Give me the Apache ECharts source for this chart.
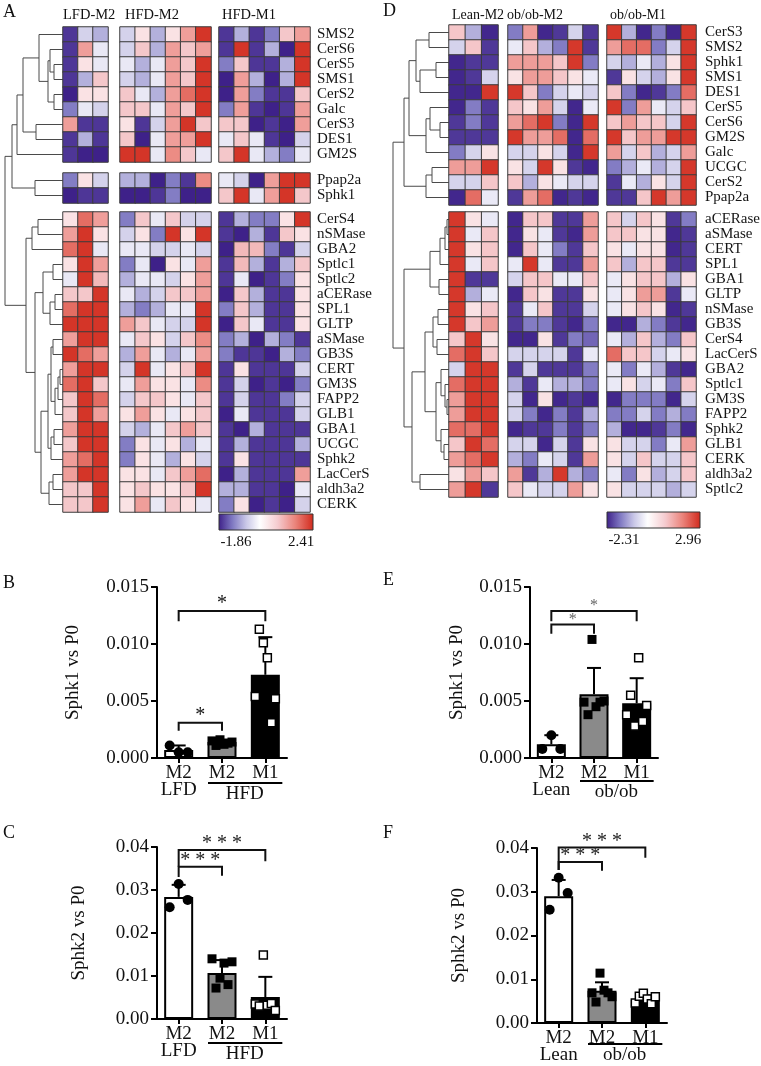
<!DOCTYPE html>
<html>
<head>
<meta charset="utf-8">
<script src="https://cdn.jsdelivr.net/npm/echarts@6.0.0/dist/echarts.min.js"></script>
<style>
html,body{margin:0;padding:0;background:#fff;}
#chart{width:761px;height:1066px;}
</style>
</head>
<body>
<div id="chart"></div>
<script>
// ================= DATA =================
// ---- Heatmap A (LFD/HFD) ----
const genesA = ['SMS2','CerS6','CerS5','SMS1','CerS2','Galc','CerS3','DES1','GM2S',
  'Ppap2a','Sphk1',
  'CerS4','nSMase','GBA2','Sptlc1','Sptlc2','aCERase','SPL1','GLTP','aSMase','GB3S','CERT','GM3S','FAPP2','GLB1','GBA1','UCGC','Sphk2','LacCerS','aldh3a2','CERK'];
const blockSizesA = [9, 2, 20];
const groupsA = ['LFD-M2', 'HFD-M2', 'HFD-M1'];
const groupSizesA = [3, 6, 6];
const scaleA = [-1.86, 2.41];
const valuesA = [
  [-1.7,-0.5,-0.8, -0.5,0.45,-0.8,0.45,1.3,2.3, -1.7,-0.8,-1.7,-1.2,0.85,1.3],
  [-1.7,1.3,-0.25, -0.5,0.85,-0.8,1.3,0.85,1.3, -1.7,2.3,-1.7,-0.8,-1.85,2.3],
  [-1.7,0.45,-0.25, -0.25,-0.8,-0.25,1.3,0.85,2.3, -1.2,0.85,-1.7,-1.7,-0.8,2.3],
  [-1.7,-0.8,0.85, -0.5,-0.8,-0.25,1.3,0.85,2.3, -1.85,1.3,-0.8,-1.85,-0.8,2.3],
  [-1.85,0.45,0.45, 0.85,-0.25,-0.8,1.3,1.8,2.3, -1.85,1.3,-1.2,-1.7,-1.7,0.85],
  [-1.2,-0.25,-0.5, 0.85,0.85,-0.25,1.3,0.85,2.3, -1.2,1.3,-1.7,-1.85,-1.7,1.3],
  [1.3,-1.7,-1.7, 0.45,-1.7,-0.5,1.3,2.3,0.85, 0.85,0.85,-1.85,-1.7,-1.85,1.3],
  [-1.7,-0.8,-1.7, 0.85,-1.85,-0.25,1.3,1.3,2.3, -0.25,0.85,-0.25,-1.7,-1.85,-0.5],
  [-1.7,-1.85,-1.85, 2.3,2.3,-0.25,1.5,0.85,-0.25, 0.85,2.3,-0.25,-0.8,-1.2,-0.25],
  [-1.2,0.45,-0.5, -0.8,-0.8,-1.85,-1.2,-1.7,1.5, -0.25,-0.5,-1.85,1.3,2.3,2.3],
  [-1.85,-1.7,-1.7, -1.85,-1.85,-1.7,-1.2,-1.85,-1.85, 0.85,2.3,-0.25,1.3,2.3,0.85],
  [0.45,1.8,1.3, -1.2,0.85,-0.25,0.85,-0.5,-0.5, -1.7,-0.8,-1.2,-1.2,0.45,2.3],
  [1.3,2.3,0.45, -0.5,0.45,-1.2,2.3,0.45,2.3, -1.7,-1.85,-0.8,-1.7,0.85,0.45],
  [1.8,2.3,-0.25, -0.25,-0.25,-0.5,-0.5,-0.25,-0.5, -1.85,1.0,1.0,-1.2,-1.7,-0.5],
  [0.45,2.3,1.3, -1.2,-0.25,-1.85,0.45,-0.25,1.3, -1.7,1.0,-0.8,-1.7,-0.8,0.85],
  [-0.25,2.3,1.0, -0.8,-0.25,-0.25,-0.5,0.45,1.3, -1.7,-0.25,-1.85,-1.7,-1.2,0.45],
  [0.85,0.85,2.3, -0.25,-0.8,-0.5,0.85,0.85,1.3, -1.85,0.85,-0.8,-1.7,-1.7,0.45],
  [1.8,2.3,2.3, -0.8,-1.2,-0.8,-0.25,-0.25,2.3, -1.2,0.85,-0.8,-1.7,-1.7,0.45],
  [2.3,2.3,2.3, 1.3,0.85,-0.25,-0.5,-0.5,2.3, -1.85,0.85,-0.25,-1.7,-1.7,0.45],
  [1.3,2.3,2.3, -0.25,0.85,0.45,-0.5,0.85,1.5, -1.2,-0.8,-1.85,-0.8,-1.2,-1.7],
  [2.3,1.8,1.3, -0.8,1.3,-0.25,-0.8,-0.25,1.3, -1.2,-1.7,-1.7,-1.85,-0.8,-1.2],
  [1.3,2.3,2.3, -0.5,2.3,-0.25,0.45,0.85,2.3, -1.7,0.45,-1.7,-1.7,-1.7,-0.5],
  [1.8,2.3,0.85, -0.25,1.3,0.45,0.45,-0.25,1.5, -1.7,-0.5,-1.85,-1.7,-1.85,-1.2],
  [0.85,2.3,1.8, -0.5,0.85,0.85,0.45,-0.25,0.85, -1.7,-0.5,-1.7,-1.7,-1.2,-0.5],
  [0.85,2.3,1.3, 0.45,1.3,0.45,-0.25,0.45,0.85, -1.85,-0.25,-1.7,-1.7,-1.7,-0.5],
  [1.3,2.3,2.3, -0.5,-0.8,-0.25,0.85,1.3,0.85, -1.7,-1.85,-0.8,-1.7,-1.7,-1.7],
  [0.85,2.3,2.3, -1.2,0.45,-0.25,0.45,-0.8,-0.25, -1.7,-0.8,-1.7,-1.7,-1.7,-0.8],
  [1.3,1.8,2.3, -1.2,0.45,-0.25,-0.8,0.45,-0.5, -1.7,0.45,-1.7,-1.7,-1.7,-1.7],
  [1.3,2.3,2.3, 0.45,0.45,-0.25,0.85,1.3,1.8, -1.85,-0.8,-1.7,-1.7,-1.7,1.3],
  [0.85,0.85,2.3, 0.45,0.85,0.45,0.45,0.85,2.3, -0.8,-0.8,-1.7,-1.7,-1.85,-0.25],
  [0.85,0.85,2.3, 0.45,1.3,-0.25,0.85,0.45,-0.25, -1.2,0.45,-1.85,-1.7,-1.85,-0.5]
];
// dendrogram A: [left, right, mergeHeight]
const treeA = [
  [
    [
      [
        ['SMS2', [['CerS6', ['CerS5','SMS1',9], 13], ['CerS2','Galc',9], 15], 24],
        ['CerS3','DES1',27], 40],
      'GM2S', 46],
    ['Ppap2a','Sphk1',28], 51],
  [
    [['CerS4','nSMase',25],'GBA2',31],
    [
      [['Sptlc1','Sptlc2',10], [['aCERase','SPL1',8],'GLTP',13], 20],
      [
        [
          [['aSMase','GB3S',10], [[['CERT','GM3S',3],'FAPP2',5],'GLB1',8], 12],
          [['GBA1','UCGC',9],'Sphk2',12], 15],
        [['LacCerS','aldh3a2',10],'CERK',14], 22],
      28],
    37],
  58];

// ---- Heatmap D (Lean/ob/ob) ----
const genesD = ['CerS3','SMS2','Sphk1','SMS1','DES1','CerS5','CerS6','GM2S','Galc','UCGC','CerS2','Ppap2a',
  'aCERase','aSMase','CERT','SPL1','GBA1','GLTP','nSMase','GB3S','CerS4','LacCerS','GBA2','Sptlc1','GM3S','FAPP2','Sphk2','GLB1','CERK','aldh3a2','Sptlc2'];
const blockSizesD = [12, 19];
const groupsD = ['Lean-M2', 'ob/ob-M2', 'ob/ob-M1'];
const groupSizesD = [3, 6, 6];
const scaleD = [-2.31, 2.96];
const valuesD = [
  [1.05,-1.0,-2.25, -1.5,1.6,-2.25,-2.1,-0.6,-2.1, 2.8,-1.0,-2.25,-1.5,-2.25,2.8],
  [-0.6,1.05,-2.1, -0.3,1.05,-1.0,-1.5,2.8,-2.1, 1.6,2.2,2.2,-1.5,-0.6,2.8],
  [-2.25,-2.1,-2.1, 1.6,1.6,1.6,1.05,2.8,-1.5, -0.6,-1.0,-0.3,-1.0,0.55,2.8],
  [-2.25,-2.1,-0.6, 0.55,1.6,1.6,1.05,0.55,-0.3, -2.1,0.55,-0.6,-1.0,0.55,2.8],
  [-2.25,-2.25,2.8, 2.8,1.05,-1.5,-0.6,-0.3,-0.6, 1.05,-1.5,-2.25,-2.1,-1.5,2.2],
  [-2.25,-1.5,-2.1, 1.05,0.55,1.6,-0.6,-2.25,-0.3, 2.8,-1.5,1.6,-0.3,-0.6,1.05],
  [-2.1,-1.5,-2.1, 1.6,2.2,2.8,-1.5,-2.25,2.8, 1.05,1.6,1.05,1.05,-0.6,2.8],
  [-2.1,-2.1,-2.1, 2.8,1.6,1.6,2.2,-2.25,2.2, 2.8,1.05,1.6,1.6,2.8,2.8],
  [-1.5,-0.6,0.55, -0.6,-0.6,0.55,-0.6,-2.25,2.8, 1.6,-0.6,1.05,-1.0,-0.6,1.6],
  [1.6,1.6,2.8, 0.55,-0.6,2.8,0.55,-2.1,-2.25, -1.5,-1.0,-0.3,-1.0,-0.6,2.8],
  [-0.6,-0.6,1.05, 1.05,-1.0,0.55,-0.3,-0.6,-0.6, -2.1,-0.3,-1.0,0.55,-0.6,2.8],
  [-2.25,2.2,-0.3, -2.1,1.6,2.2,-2.25,-2.1,-2.25, -2.1,-2.1,1.05,2.8,1.6,2.8],
  [2.8,0.55,-0.3, -2.25,1.05,1.05,-2.1,-2.1,1.6, 1.05,-0.6,1.05,0.55,-2.1,-1.5],
  [2.8,-0.3,1.05, -2.25,0.55,-0.3,-2.1,-2.25,1.6, 1.05,1.05,0.55,0.55,-2.25,-2.1],
  [2.8,0.55,1.05, -2.25,1.05,-0.3,-1.5,-2.1,1.05, 0.55,-0.3,0.55,0.55,-2.25,-2.1],
  [2.8,-0.3,1.05, -0.3,2.8,-0.3,-2.1,-2.1,1.6, 1.05,-1.0,1.05,1.05,-2.1,-2.1],
  [2.8,-2.1,-2.1, -0.6,1.05,1.05,-0.3,-0.3,1.05, -0.3,0.55,1.05,1.05,-1.0,0.55],
  [2.8,-1.0,-0.3, -2.25,1.05,0.55,-2.1,-2.1,0.55, -0.3,0.55,1.6,1.6,-2.1,-0.3],
  [2.8,0.55,1.05, -2.1,-0.3,1.05,-2.1,-2.1,-0.6, -0.3,0.55,1.05,0.55,-2.25,-2.1],
  [2.8,1.05,1.6, -2.1,-1.5,-1.5,-2.1,-2.25,-1.5, -2.25,-2.25,-1.0,-1.5,-2.1,-2.25],
  [1.05,2.8,0.55, -2.25,-2.25,0.55,-2.1,-1.5,-1.7, -0.3,-1.0,1.05,-1.0,-1.5,1.05],
  [2.2,2.8,1.05, -0.6,-0.6,-0.6,-0.6,-2.1,-0.3, 2.2,1.05,1.05,-0.6,-0.3,0.55],
  [-0.6,2.8,2.8, -2.1,-0.6,-2.1,-2.1,-2.1,-1.5, -0.3,-1.5,-0.3,-1.0,-2.1,-2.25],
  [2.2,2.8,2.8, -1.0,-2.1,-0.3,-1.0,-1.0,-1.5, -0.3,0.55,-0.6,-0.3,-1.5,1.05],
  [1.6,2.8,2.8, -0.6,-2.25,0.55,-2.25,-2.1,-2.25, -2.25,-1.5,-1.5,-1.5,-2.25,-0.6],
  [1.6,2.8,2.8, -0.6,-1.5,-2.25,-1.5,-2.1,-1.0, -1.5,-1.5,-0.6,-1.5,-1.0,-1.5],
  [2.2,2.2,2.8, -2.25,-2.1,-2.1,-1.5,-2.1,-1.5, -1.0,-2.25,-2.25,-2.1,-1.5,-2.25],
  [1.05,2.8,2.2, -0.6,-0.6,-2.25,-0.6,-2.1,0.55, 0.55,-0.6,-0.6,-1.5,-0.3,1.6],
  [1.6,2.2,2.8, -1.0,-1.5,-0.3,-0.6,-2.1,1.6, 0.55,-0.6,1.05,-0.6,-0.6,1.05],
  [0.55,1.6,1.05, 1.6,-2.1,-1.0,2.8,-1.0,-1.5, -0.3,-1.5,0.55,-1.0,-0.6,1.05],
  [1.6,2.8,-2.1, 1.05,-0.3,-0.6,-0.6,1.6,0.55, 0.55,-0.6,-0.6,-0.6,-1.0,-0.6]
];
const treeD = [
  [
    [
      [['CerS3','SMS2',20], [['Sphk1','SMS1',13],'DES1',29], 33],
      [['CerS5',['CerS6','GM2S',9],19],'Galc',23], 40],
    [['UCGC','CerS2',17],'Ppap2a',23], 45],
  [
    [[[['aCERase','aSMase',2],'CERT',4],'SPL1',9],['GBA1','GLTP',10],19],
    [
      [
        [['nSMase','GB3S',11],['CerS4','LacCerS',12],16],
        [['GBA2',['Sptlc1',['GM3S','FAPP2',2],4],8],['Sphk2',['GLB1','CERK',5],8],13],
        24],
      ['aldh3a2','Sptlc2',29], 37],
    45],
  56];

// ---- Bar panels ----
const catsHFD = ['M2\nLFD', 'M2', 'M1'];
const catsOb = ['M2\nLean', 'M2', 'M1'];

const sphk1HFDMean = [0.0007, 0.0014, 0.0073];
const sphk1HFDSd = [0.0004, 0.0002, 0.0033];
const sphk1HFDPts = [
  [0.0011, 0.0005, 0.0005],
  [0.0015, 0.0011, 0.0016, 0.0012, 0.0013, 0.0014],
  [0.0054, 0.0113, 0.0101, 0.0088, 0.0031, 0.0052]
];
const sphk1HFDBrackets = [[0, 2, 0.0129, 0.0120, 0.0120], [0, 1, 0.0031, 0.0024, 0.0024]];
const sphk1HFDStars = ['*', '*'];

const sphk2HFDMean = [0.0284, 0.0107, 0.0051];
const sphk2HFDSd = [0.0028, 0.0030, 0.0047];
const sphk2HFDPts = [
  [0.0260, 0.0314, 0.0277],
  [0.0140, 0.0072, 0.0095, 0.0130, 0.0080, 0.0133],
  [0.0035, 0.0030, 0.0149, 0.0032, 0.0036, 0.0020]
];
const sphk2HFDBrackets = [[0, 2, 0.0393, 0.0354, 0.0367], [0, 1, 0.0354, 0.0330, 0.0333]];
const sphk2HFDStars = ['* * *', '* * *'];

const sphk1ObMean = [0.0012, 0.0056, 0.0048];
const sphk1ObSd = [0.0008, 0.0023, 0.0022];
const sphk1ObPts = [
  [0.0008, 0.0020, 0.0008],
  [0.0049, 0.0038, 0.0104, 0.0045, 0.0049, 0.0050],
  [0.0038, 0.0055, 0.0028, 0.0088, 0.0032, 0.0046]
];
const sphk1ObBrackets = [[0, 2, 0.0129, 0.0120, 0.0120], [0, 1, 0.0117, 0.0109, 0.0109]];
const sphk1ObStars = ['*', '*'];

const sphk2ObMean = [0.0290, 0.0074, 0.0053];
const sphk2ObSd = [0.0037, 0.0019, 0.0010];
const sphk2ObPts = [
  [0.0259, 0.0332, 0.0297],
  [0.0069, 0.0048, 0.0114, 0.0075, 0.0069, 0.0060],
  [0.0046, 0.0061, 0.0068, 0.0055, 0.0044, 0.0060]
];
const sphk2ObBrackets = [[0, 2, 0.0401, 0.0350, 0.0378], [0, 1, 0.0368, 0.0350, 0.0348]];
const sphk2ObStars = ['* * *', '* * *'];

const yAxisSphk1 = {max: 0.015, interval: 0.005, decimals: 3, name: 'Sphk1 vs P0'};
const yAxisSphk2 = {max: 0.04, interval: 0.01, decimals: 2, name: 'Sphk2 vs P0'};

// ================= STYLE / LAYOUT =================
const SERIF = '"Liberation Serif","DejaVu Serif","Times New Roman",serif';
const NEG = ['#ffffff', '#c9c7e7', '#7f78c2', '#3d2088'];
const POS = ['#ffffff', '#f5cbcf', '#ea8279', '#d1291c'];

function hexToRgb(h) { return [parseInt(h.slice(1,3),16), parseInt(h.slice(3,5),16), parseInt(h.slice(5,7),16)]; }
function mix(stops, f) {
  f = Math.max(0, Math.min(1, f));
  const seg = (stops.length - 1) * f;
  const i = Math.min(stops.length - 2, Math.floor(seg));
  const t = seg - i;
  const a = hexToRgb(stops[i]), b = hexToRgb(stops[i + 1]);
  return 'rgb(' + a.map((v, k) => Math.round(v + (b[k] - v) * t)).join(',') + ')';
}
function palette(min, max, n) {
  const out = [];
  for (let i = 0; i < n; i++) {
    const v = min + (max - min) * i / (n - 1);
    out.push(v < 0 ? mix(NEG, v / min) : mix(POS, v / max));
  }
  return out;
}

const layoutA = {colX: [63, 120, 219], colW: [45, 91, 91], rowTop: [27, 173, 212], rowH: 15, labelGap: 7,
  dendroLeft: 3, dendroW: 60, headerX: [63, 125, 222], headerY: 15,
  bar: {x: 219, y: 514, w: 94, h: 16}};
const layoutD = {colX: [449, 508, 607], colW: [49, 90, 89], rowTop: [25, 212], rowH: 15, labelGap: 9,
  dendroLeft: 389, dendroW: 60, headerX: [452, 507, 610], headerY: 15,
  bar: {x: 607, y: 512, w: 93, h: 16}};

const opt = {animation: false, grid: [], xAxis: [], yAxis: [], series: [], visualMap: []};

function buildHeatmap(genes, blockSizes, groupSizes, values, scale, L) {
  const info = {yAxisOf: {}, dendroX: null};
  const sIdx = [];
  let rowStart = 0;
  blockSizes.forEach((nb, b) => {
    const blockGenes = genes.slice(rowStart, rowStart + nb);
    let colStart = 0;
    groupSizes.forEach((ng, g) => {
      const gi = opt.grid.length;
      opt.grid.push({left: L.colX[g], top: L.rowTop[b], width: L.colW[g], height: nb * L.rowH, outerBoundsMode: 'none'});
      const xi = opt.xAxis.length;
      opt.xAxis.push({gridIndex: gi, type: 'category', data: Array.from({length: ng}, (_, k) => 'c' + k), show: false});
      const yi = opt.yAxis.length;
      const last = g === groupSizes.length - 1;
      opt.yAxis.push({gridIndex: gi, type: 'category', data: blockGenes, inverse: true, position: 'right', show: last,
        axisLine: {show: false}, axisTick: {show: false}, splitLine: {show: false},
        axisLabel: {show: last, interval: 0, hideOverlap: false, margin: L.labelGap, fontFamily: SERIF, fontSize: 15, color: '#151515'}});
      const data = [];
      blockGenes.forEach((gene, r) => {
        if (g === 0) info.yAxisOf[gene] = {yi, idx: r};
        for (let c = 0; c < ng; c++) data.push([c, r, values[rowStart + r][colStart + c]]);
      });
      sIdx.push(opt.series.length);
      opt.series.push({type: 'heatmap', xAxisIndex: xi, yAxisIndex: yi, data, silent: true,
        itemStyle: {borderColor: '#3c3c3c', borderWidth: 1}, emphasis: {disabled: true}});
      colStart += ng;
    });
    rowStart += nb;
  });
  const pal = palette(scale[0], scale[1], 61);
  opt.visualMap.push({type: 'continuous', show: false, min: scale[0], max: scale[1], seriesIndex: sIdx, dimension: 2,
    inRange: {color: pal}});
  // dendrogram axis
  const dg = opt.grid.length;
  opt.grid.push({left: L.dendroLeft, top: L.rowTop[0], width: L.dendroW, height: 100, outerBoundsMode: 'none'});
  info.dendroX = opt.xAxis.length;
  opt.xAxis.push({gridIndex: dg, type: 'value', min: 0, max: L.dendroW, inverse: true, show: false});
  opt.yAxis.push({gridIndex: dg, type: 'value', min: 0, max: 1, show: false});
  info.palette = pal;
  return info;
}

const infoA = buildHeatmap(genesA, blockSizesA, groupSizesA, valuesA, scaleA, layoutA);
const infoD = buildHeatmap(genesD, blockSizesD, groupSizesD, valuesD, scaleD, layoutD);

const BAR_FILL = ['#ffffff', '#8a8a8a', '#000000'];
const PT_STYLE = [
  {symbol: 'circle', size: 10, color: '#000'},
  {symbol: 'rect', size: 9, color: '#000'},
  {symbol: 'rect', size: 8, color: '#fff'}
];

function buildBars(P) {
  const gi = opt.grid.length;
  opt.grid.push({left: P.left, top: P.top, width: P.width, height: P.height, outerBoundsMode: 'none'});
  const xi = opt.xAxis.length, yi = opt.yAxis.length;
  opt.xAxis.push({gridIndex: gi, type: 'category', data: P.cats,
    axisLine: {lineStyle: {color: '#000', width: 2}},
    axisTick: {show: true, alignWithLabel: true, length: 5, lineStyle: {color: '#000', width: 2}},
    axisLabel: {fontFamily: SERIF, fontSize: 19, color: '#111', lineHeight: 17, margin: 7, interval: 0}});
  opt.yAxis.push({gridIndex: gi, type: 'value', min: 0, max: P.y.max, interval: P.y.interval,
    splitLine: {show: false},
    axisLine: {show: true, lineStyle: {color: '#000', width: 2}},
    axisTick: {show: true, length: 6, lineStyle: {color: '#000', width: 2}},
    axisLabel: {formatter: v => v.toFixed(P.y.decimals), fontFamily: SERIF, fontSize: 19, color: '#111', margin: 8},
    name: P.y.name, nameLocation: 'middle', nameGap: P.nameGap,
    nameTextStyle: {fontFamily: SERIF, fontSize: 19, color: '#111'}});
  opt.series.push({type: 'bar', xAxisIndex: xi, yAxisIndex: yi, barWidth: 29, silent: true,
    data: P.mean.map((m, i) => ({value: m, itemStyle: {color: BAR_FILL[i], borderColor: '#000', borderWidth: 2}}))});
  opt.series.push({type: 'custom', xAxisIndex: xi, yAxisIndex: yi, silent: true, encode: {x: 0, y: 1},
    data: P.mean.map((m, i) => [i, m, P.sd[i]]),
    renderItem: (params, api) => {
      const c = api.value(0), m = api.value(1), s = api.value(2);
      const p0 = api.coord([c, m]), p1 = api.coord([c, m + s]);
      return {type: 'group', children: [
        {type: 'line', shape: {x1: p0[0], y1: p0[1], x2: p1[0], y2: p1[1]}, style: {stroke: '#000', lineWidth: 2}},
        {type: 'line', shape: {x1: p1[0] - 7, y1: p1[1], x2: p1[0] + 7, y2: p1[1]}, style: {stroke: '#000', lineWidth: 2}}
      ]};
    }});
  P.pts.forEach((arr, g) => {
    const st = PT_STYLE[g];
    const n = arr.length, spread = g === 0 ? 18 : 20;
    opt.series.push({type: 'scatter', xAxisIndex: xi, yAxisIndex: yi, silent: true,
      symbol: st.symbol, symbolSize: st.size,
      itemStyle: {color: st.color, borderColor: '#000', borderWidth: g === 2 ? 1.5 : 0, opacity: 1},
      data: arr.map((v, j) => ({value: [g, v], symbolOffset: [n > 1 ? (j - (n - 1) / 2) * spread / (n - 1) : 0, 0]}))});
  });
  opt.series.push({type: 'custom', xAxisIndex: xi, yAxisIndex: yi, silent: true, encode: {x: 0, y: 2},
    data: P.brackets.map((b, k) => b.concat([k])),
    renderItem: (params, api) => {
      const a = api.coord([api.value(0), api.value(2)]), b = api.coord([api.value(1), api.value(2)]);
      const la = api.coord([api.value(0), api.value(3)]), lb = api.coord([api.value(1), api.value(4)]);
      const label = P.stars[api.value(5)];
      return {type: 'group', children: [
        {type: 'polyline', shape: {points: [[a[0], la[1]], [a[0], a[1]], [b[0], a[1]], [b[0], lb[1]]]},
          style: {stroke: '#111', lineWidth: 2, fill: null}},
        {type: 'text', x: (a[0] + b[0]) / 2, y: a[1] + P.starDy,
          style: {text: label, fill: P.starColor, font: P.starSize + 'px ' + SERIF,
            textAlign: 'center', textVerticalAlign: 'bottom', align: 'center', verticalAlign: 'bottom'}}
      ]};
    }});
  opt.series.push({type: 'custom', xAxisIndex: xi, yAxisIndex: yi, silent: true, encode: {x: 0, y: 2},
    data: [[1, 2, 0]],
    renderItem: (params, api) => {
      const p1 = api.coord([api.value(0), 0]), p2 = api.coord([api.value(1), 0]);
      const y = p1[1] + P.underDy;
      return {type: 'group', children: [
        {type: 'line', shape: {x1: p1[0] - 14, y1: y, x2: p2[0] + 17, y2: y}, style: {stroke: '#000', lineWidth: 2}},
        {type: 'text', x: (p1[0] + p2[0]) / 2 + 1, y: y + 2,
          style: {text: P.group, fill: '#111', font: '19px ' + SERIF,
            textAlign: 'center', textVerticalAlign: 'top', align: 'center', verticalAlign: 'top'}}
      ]};
    }});
}

buildBars({left: 157, top: 587, width: 130, height: 171, nameGap: 74, cats: catsHFD, group: 'HFD', underDy: 25,
  y: yAxisSphk1, mean: sphk1HFDMean, sd: sphk1HFDSd, pts: sphk1HFDPts, brackets: sphk1HFDBrackets, stars: sphk1HFDStars,
  starDy: 3, starSize: 20, starColor: '#111'});
buildBars({left: 157, top: 847, width: 130, height: 172, nameGap: 68, cats: catsHFD, group: 'HFD', underDy: 24,
  y: yAxisSphk2, mean: sphk2HFDMean, sd: sphk2HFDSd, pts: sphk2HFDPts, brackets: sphk2HFDBrackets, stars: sphk2HFDStars,
  starDy: 4, starSize: 20, starColor: '#222'});
buildBars({left: 530, top: 587, width: 128, height: 171, nameGap: 63, cats: catsOb, group: 'ob/ob', underDy: 23,
  y: yAxisSphk1, mean: sphk1ObMean, sd: sphk1ObSd, pts: sphk1ObPts, brackets: sphk1ObBrackets, stars: sphk1ObStars,
  starDy: 3, starSize: 16, starColor: '#666'});
buildBars({left: 537, top: 848, width: 130, height: 175, nameGap: 68, cats: catsOb, group: 'ob/ob', underDy: 21,
  y: yAxisSphk2, mean: sphk2ObMean, sd: sphk2ObSd, pts: sphk2ObPts, brackets: sphk2ObBrackets, stars: sphk2ObStars,
  starDy: 4, starSize: 20, starColor: '#222'});

const chart = echarts.init(document.getElementById('chart'), null, {renderer: 'canvas'});
chart.setOption(opt);

// ================= second pass: dendrograms, headers, colour bars =================
function txt(x, y, text, size, align, vAlign, color) {
  return {type: 'text', x, y, silent: true, style: {text, fill: color || '#111', font: size + 'px ' + SERIF,
    textAlign: align || 'left', textVerticalAlign: vAlign || 'middle', align: align || 'left', verticalAlign: vAlign || 'middle'}};
}
const elements = [];
function dendro(tree, info) {
  const px = h => chart.convertToPixel({xAxisIndex: info.dendroX}, h);
  const py = gene => { const o = info.yAxisOf[gene]; return chart.convertToPixel({yAxisIndex: o.yi}, o.idx); };
  function rec(node) {
    if (typeof node === 'string') return {y: py(node), h: 0};
    const a = rec(node[0]), b = rec(node[1]);
    const x = px(node[2]);
    elements.push({type: 'polyline', silent: true,
      shape: {points: [[px(a.h), a.y], [x, a.y], [x, b.y], [px(b.h), b.y]]},
      style: {stroke: '#4a4a4a', lineWidth: 1, fill: null}});
    return {y: (a.y + b.y) / 2, h: node[2]};
  }
  rec(tree);
}
dendro(treeA, infoA);
dendro(treeD, infoD);

function colourBar(L, pal, scale) {
  const B = L.bar;
  elements.push({type: 'rect', silent: true, shape: {x: B.x, y: B.y, width: B.w, height: B.h},
    style: {fill: new echarts.graphic.LinearGradient(0, 0, 1, 0, pal.map((c, i) => ({offset: i / (pal.length - 1), color: c}))),
      stroke: '#333', lineWidth: 1}});
  elements.push(txt(B.x + 17, B.y + B.h + 12, scale[0].toFixed(2), 15, 'center', 'middle', '#111'));
  elements.push(txt(B.x + B.w - 12, B.y + B.h + 12, scale[1].toFixed(2), 15, 'center', 'middle', '#111'));
}
colourBar(layoutA, infoA.palette, scaleA);
colourBar(layoutD, infoD.palette, scaleD);

groupsA.forEach((g, i) => elements.push(txt(layoutA.headerX[i], layoutA.headerY, g, 14.5, 'left', 'middle')));
groupsD.forEach((g, i) => elements.push(txt(layoutD.headerX[i], layoutD.headerY, g, 14, 'left', 'middle')));

const panelLetters = [['A', 3, 12], ['B', 3, 583], ['C', 3, 833], ['D', 383, 11], ['E', 383, 580], ['F', 383, 833]];
panelLetters.forEach(p => elements.push(txt(p[1], p[2], p[0], 18, 'left', 'middle')));

chart.setOption({graphic: {elements}});
</script>
</body>
</html>
